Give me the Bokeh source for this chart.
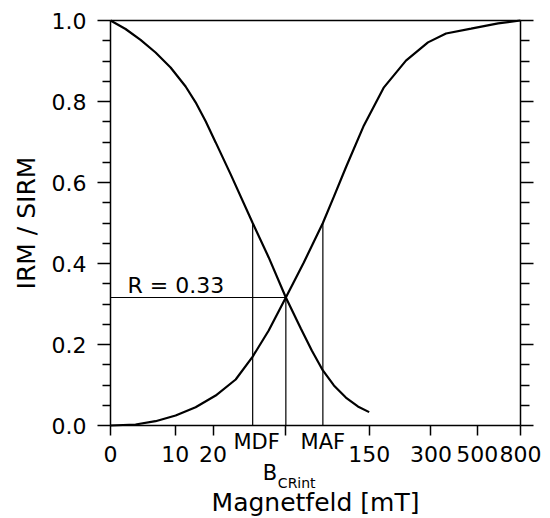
import numpy as np
from bokeh.plotting import figure
from bokeh.models import (LinearAxis, FixedTicker, Range1d, Label,
                          CustomJSTickFormatter, PrintfTickFormatter)
from bokeh.embed import file_html
from bokeh.resources import INLINE

# ---- data (field in mT, ratio IRM/SIRM) ----
af_field = [0, 1.75, 3.8, 6.21, 9.04, 12.37, 14.9, 17.73, 20.87, 26.26, 35.9, 44.5, 55.5, 66.9, 76.5, 87.4, 99.6, 114.6, 131.7, 150]
af_ratio = [1.0, 0.979, 0.952, 0.921, 0.884, 0.837, 0.798, 0.751, 0.699, 0.620, 0.50, 0.415, 0.316, 0.2395, 0.185, 0.136, 0.099, 0.069, 0.047, 0.033]

irm_field = [0, 3.08, 6.21, 10.1, 14.9, 20.87, 28.26, 35.9, 44.5, 55.5, 69.4, 87.4, 99.6, 114.6, 141.2, 177.4, 227.3, 290.5, 354.6, 466.9, 627.3, 800]
irm_ratio = [0, 0.0025, 0.0106, 0.0247, 0.045, 0.074, 0.1136, 0.170, 0.2346, 0.316, 0.4025, 0.50, 0.565, 0.637, 0.741, 0.835, 0.901, 0.946, 0.968, 0.980, 0.993, 1.0]

mdf = 35.9
bcr_int = 55.5
maf = 87.4
r_value = 0.316
half = 0.5

x_tick_fields = [0, 10, 20, 150, 300, 500, 800]
x_tick_labels = ["0", "10", "20", "150", "300", "500", "800"]
y_ticks = [0.0, 0.2, 0.4, 0.6, 0.8, 1.0]
y_minor = [0.05, 0.1, 0.15, 0.25, 0.3, 0.35, 0.45, 0.5, 0.55, 0.65, 0.7, 0.75, 0.85, 0.9, 0.95]

# axis transform: u = log10(B + 10 mT)
def u(b):
    return np.log10(np.asarray(b, dtype=float) + 10.0)

FONT = "DejaVu Sans"
W, H = 550, 518
PLOT_W, PLOT_H = 410, 405          # size of the data box in pixels
PAD_L, PAD_R, PAD_T, PAD_B = 110, 30, 20, 93

U0, U1 = float(u(0)), float(u(800))
upp = (U1 - U0) / PLOT_W
ypp = 1.0 / PLOT_H

p = figure(frame_width=W, frame_height=H, output_backend="svg", toolbar_location=None,
           x_range=Range1d(U0 - PAD_L * upp, U1 + PAD_R * upp),
           y_range=Range1d(0 - PAD_B * ypp, 1 + PAD_T * ypp),
           min_border=0, min_border_left=0, min_border_right=0,
           min_border_top=0, min_border_bottom=0,
           x_axis_location=None, y_axis_location=None)
p.grid.visible = False
p.outline_line_color = None
p.background_fill_color = "white"
p.border_fill_color = "white"

def style_axis(ax):
    ax.axis_line_color = "black"
    ax.major_tick_line_color = "black"
    ax.minor_tick_line_color = "black"
    ax.major_label_text_color = "black"
    ax.axis_label_text_color = "black"
    ax.axis_line_width = 1.5
    ax.major_tick_line_width = 1.5
    ax.minor_tick_line_width = 1.5
    ax.major_tick_in = 0
    ax.minor_tick_in = 0

# x axis, fixed at y = 0
xt = [float(v) for v in u(x_tick_fields)] + [float(u(bcr_int))]
xl = x_tick_labels + [""]
xfmt = CustomJSTickFormatter(args=dict(ts=xt, ls=xl), code="""
let best = 0; let d = 1e9;
for (let i = 0; i < ts.length; i++) { const dd = Math.abs(ts[i] - tick); if (dd < d) { d = dd; best = i; } }
return ls[best];
""")
xaxis = LinearAxis(ticker=FixedTicker(ticks=xt), formatter=xfmt,
                   axis_label="Magnetfeld [mT]", fixed_location=0, bounds=(U0, U1))
style_axis(xaxis)
xaxis.major_tick_out = 10
xaxis.minor_tick_out = 0
xaxis.major_label_text_font = FONT
xaxis.major_label_text_font_size = "22px"
xaxis.major_label_standoff = 10
xaxis.axis_label_text_font = FONT
xaxis.axis_label_text_font_size = "25px"
xaxis.axis_label_text_font_style = "normal"
xaxis.axis_label_standoff = 23
p.add_layout(xaxis, "below")

# top border line at 1.0
taxis = LinearAxis(ticker=FixedTicker(ticks=[]), formatter=CustomJSTickFormatter(code="return ''"),
                   fixed_location=1.0, bounds=(U0, U1))
style_axis(taxis)
taxis.major_tick_out = 0
taxis.minor_tick_out = 0
taxis.major_label_standoff = 0
taxis.major_label_text_font_size = "1px"
p.add_layout(taxis, "above")

# left y axis
yaxis = LinearAxis(ticker=FixedTicker(ticks=y_ticks, minor_ticks=y_minor),
                   formatter=PrintfTickFormatter(format="%.1f"),
                   axis_label="IRM / SIRM", bounds=(0, 1), fixed_location=U0)
style_axis(yaxis)
yaxis.major_tick_out = 13
yaxis.minor_tick_out = 8
yaxis.major_label_text_font = FONT
yaxis.major_label_text_font_size = "22px"
yaxis.major_label_standoff = 11
yaxis.axis_label_text_font = FONT
yaxis.axis_label_text_font_size = "25px"
yaxis.axis_label_text_font_style = "normal"
yaxis.axis_label_standoff = 8
p.add_layout(yaxis, "left")

# right y axis (ticks only)
raxis = LinearAxis(ticker=FixedTicker(ticks=y_ticks, minor_ticks=y_minor),
                   formatter=CustomJSTickFormatter(code="return ''"),
                   bounds=(0, 1), fixed_location=U1)
style_axis(raxis)
raxis.major_tick_out = 13
raxis.minor_tick_out = 9
raxis.major_label_standoff = 0
raxis.major_label_text_font_size = "1px"
p.add_layout(raxis, "right")

# curves
p.line(u(af_field), af_ratio, line_color="black", line_width=2.2)
p.line(u(irm_field), irm_ratio, line_color="black", line_width=2.2)

# construction lines
vx = [float(u(mdf)), float(u(bcr_int)), float(u(maf))]
p.segment(x0=vx, y0=[0, 0, 0], x1=vx, y1=[half, r_value, half],
          line_color="black", line_width=1.2)
p.segment(x0=[U0], y0=[r_value], x1=[float(u(bcr_int))], y1=[r_value],
          line_color="black", line_width=1.2)

# annotations
p.add_layout(Label(x=float(u(2.0)), y=0.345, text="R = 0.33", text_font=FONT,
                   text_font_size="22px", text_baseline="alphabetic", text_align="left",
                   text_color="black"))
p.add_layout(Label(x=float(u(mdf)), y=-0.041, x_offset=4, text="MDF", text_font=FONT,
                   text_font_size="21px", text_baseline="alphabetic", text_align="center",
                   text_color="black"))
p.add_layout(Label(x=float(u(maf)), y=-0.041, text="MAF", text_font=FONT,
                   text_font_size="21px", text_baseline="alphabetic", text_align="center",
                   text_color="black"))
p.add_layout(Label(x=float(u(bcr_int)), y=-0.117, x_offset=-23, text="B", text_font=FONT,
                   text_font_size="21px", text_baseline="alphabetic", text_align="left",
                   text_color="black"))
p.add_layout(Label(x=float(u(bcr_int)), y=-0.141, x_offset=-8, text="CRint", text_font=FONT,
                   text_font_size="14px", text_baseline="alphabetic", text_align="left",
                   text_color="black"))

open("out.html", "w").write(file_html(p, INLINE))
